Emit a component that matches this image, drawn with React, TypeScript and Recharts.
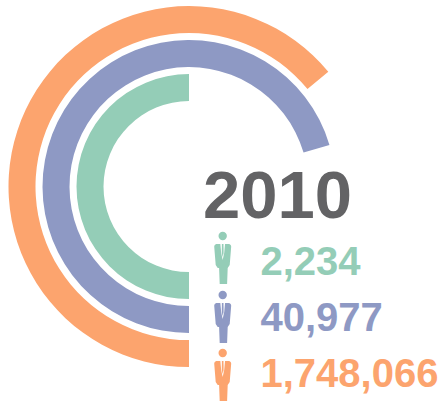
import { RadialBarChart, RadialBar, PolarAngleAxis } from "recharts";

// rings from the inside out
const groups = ["green", "purple", "orange"];
const counts = [2234, 40977, 1748066];
// the peak each ring is measured against, so a full circle means that peak
const ringPeaks = [4468, 58200, 2730000];
const colors = ["#94cdb7", "#8e99c4", "#fca46e"];
const year = "2010";

const data = groups.map((name, i) => ({
  name,
  share: counts[i] / ringPeaks[i],
  fill: colors[i],
}));

const fontFamily = '"Liberation Sans", Arial, sans-serif';

// Figure in a suit, head centred on x=0, y=0
function Person({ x, y, color }: { x: number; y: number; color: string }) {
  return (
    <g transform={`translate(${x} ${y})`} fill={color}>
      <circle cx={0} cy={0} r={4.2} />
      {/* jacket and legs */}
      <path d="M-6.5 8 L6.5 8 Q8.5 8.5 8.5 10.5 L7 29 L5 32 L4.4 48 L-3 48 L-3.6 32 L-5 32 L-7 29 L-8.5 10.5 Q-8.5 8.5 -6.5 8 Z" />
      {/* shirt opening, then the tie over it */}
      <path d="M-2.4 7.5 L2.4 7.5 L1.5 17 L0 24 L-1.5 17 Z" fill="#ffffff" />
      <path d="M-0.8 8 L0.8 8 L0.9 17 L0 21 L-0.9 17 Z" />
    </g>
  );
}

const iconY = [236, 295, 353];
const labelY = [275, 331, 387];

export default function App() {
  return (
    <div style={{ position: "absolute", left: 0, top: 0, width: 440, height: 404 }}>
      <RadialBarChart
        width={440}
        height={404}
        data={data}
        cx={189}
        cy={186.6}
        innerRadius={81.5}
        outerRadius={183.5}
        startAngle={270}
        endAngle={-90}
        barSize={27}
        margin={{ top: 0, right: 0, bottom: 0, left: 0 }}
      >
        <PolarAngleAxis type="number" domain={[0, 1]} tick={false} axisLine={false} />
        <RadialBar dataKey="share" isAnimationActive={false} />
      </RadialBarChart>
      <svg
        width={440}
        height={404}
        style={{ position: "absolute", left: 0, top: 0 }}
        fontFamily={fontFamily}
        fontWeight="bold"
      >
        <text x={277.5} y={217.5} fontSize={67} fill="#636365" textAnchor="middle">
          {year}
        </text>
        {counts.map((count, i) => (
          <g key={groups[i]}>
            <Person x={222.7} y={iconY[i]} color={colors[i]} />
            <text x={260.5} y={labelY[i]} fontSize={40} fill={colors[i]}>
              {count.toLocaleString("en-US")}
            </text>
          </g>
        ))}
      </svg>
    </div>
  );
}
